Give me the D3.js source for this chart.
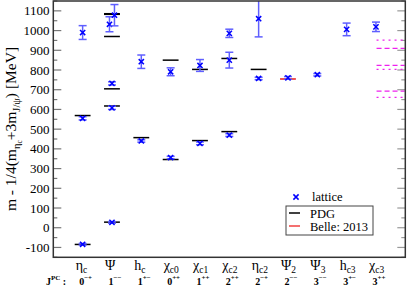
<!DOCTYPE html>
<html><head><meta charset="utf-8">
<script src="https://cdn.jsdelivr.net/npm/d3@7"></script>
<style>body{margin:0;background:#fff}svg{display:block}text{font-family:"Liberation Serif","DejaVu Serif",serif}</style>
</head><body><svg id="c" width="407" height="293"></svg>
<script>
// categories
const catMain = ["η","Ψ","h","χ","χ","χ","η","Ψ","Ψ","h","χ"];
const catSub  = ["c","","c","c0","c1","c2","c2","2","3","c3","c3"];
const jpcJ    = ["0","1","1","0","1","2","2","2","3","3","3"];
const jpcPC   = ["-+","--","+-","++","++","++","-+","--","--","+-","++"];
// lattice results: category index, value [MeV], error, small horizontal shift (category units)
const latCat = [0,0,0, 1,1,1,1,1, 2,2, 3,3, 4,4, 5,5,5, 6,6, 7, 8, 9, 10];
const latVal = [-84,555,990, 27,608,732,1032,1078, 440,842, 356,791, 428,823, 470,850,986, 757,1060, 760, 776, 1006, 1019];
const latErr = [4,8,35, 4,8,8,38,54, 6,34, 6,20, 7,30, 7,40,21, 6,92, 7, 6, 32, 24];
const latShift=[0,0,0, 0,0,0,-0.085,0.085, 0,0, 0,0, 0,0, 0,0,0, 0,0, 0, 0, 0, 0];
// PDG values
const pdgCat = [0,0, 1,1,1,1,1,1, 2, 3,3, 4,4, 5,5, 6];
const pdgVal = [-84.8,569, 28.3,617.5,704.5,970,1082.5,1085.5, 457, 346,850, 442,803, 487.5,858.5, 803];
// Belle 2013
const belleCat = [7];
const belleVal = [754.5];
// thresholds (right edge)
const thrVal  = [952,910,823,803,693,661];
const thrType = ["dot","dash","dash","dot","dash","dot"];
const yTicks = [-100,0,100,200,300,400,500,600,700,800,900,1000,1100];

const svg = d3.select("#c");
const L=53.3,R=405.3,T=1,B=257.3;
const x = d3.scaleLinear().domain([-1,11]).range([L,R]);
const y = d3.scaleLinear().domain([-150,1150]).range([B,T]);
const hw = 0.27;

// ticks left/right
const minor = d3.range(-150,1151,50).filter(v=>v%100!==0);
const gAx = svg.append("g");
yTicks.forEach(v=>{
  gAx.append("line").attr("x1",L).attr("x2",L+8).attr("y1",y(v)).attr("y2",y(v)).attr("stroke","#777").attr("stroke-width",1.2);
  gAx.append("line").attr("x1",R-8).attr("x2",R).attr("y1",y(v)).attr("y2",y(v)).attr("stroke","#999").attr("stroke-width",1.2);
  gAx.append("text").attr("x",49.5).attr("y",y(v)+4.5).attr("text-anchor","end").attr("font-size",13).text(v);
});
minor.forEach(v=>{
  gAx.append("line").attr("x1",L).attr("x2",L+4).attr("y1",y(v)).attr("y2",y(v)).attr("stroke","#777").attr("stroke-width",1.2);
  gAx.append("line").attr("x1",R-4).attr("x2",R).attr("y1",y(v)).attr("y2",y(v)).attr("stroke","#999").attr("stroke-width",1.2);
});

// thresholds
thrVal.forEach((v,i)=>{
  svg.append("line").attr("x1",x(10.02)).attr("x2",x(10.98)).attr("y1",y(v)).attr("y2",y(v))
    .attr("stroke","#ee22ee").attr("stroke-width",1.3)
    .attr("stroke-dasharray",thrType[i]==="dash"?"5,3":"2,4");
});

// PDG lines
pdgVal.forEach((v,i)=>{
  svg.append("line").attr("x1",x(pdgCat[i]-hw)).attr("x2",x(pdgCat[i]+hw)).attr("y1",y(v)).attr("y2",y(v))
    .attr("stroke","#000").attr("stroke-width",1.5);
});
belleVal.forEach((v,i)=>{
  svg.append("line").attr("x1",x(belleCat[i]-hw)).attr("x2",x(belleCat[i]+hw)).attr("y1",y(v)).attr("y2",y(v))
    .attr("stroke","#ee5555").attr("stroke-width",2);
});

// lattice error bars + markers
latVal.forEach((v,i)=>{
  const cx = x(latCat[i]+latShift[i]);
  const g = svg.append("g");
  const e = latErr[i];
  const top = Math.min(1150, v+e);
  g.append("line").attr("x1",cx).attr("x2",cx).attr("y1",y(v-e)).attr("y2",y(top)).attr("stroke","#5f5fff").attr("stroke-width",1.5);
  [v-e, v+e].forEach(w=>{ if(w<=1150) g.append("line").attr("x1",cx-4).attr("x2",cx+4).attr("y1",y(w)).attr("y2",y(w)).attr("stroke","#5f5fff").attr("stroke-width",1.5);});
  const s=2.6, cy=y(v);
  g.append("path").attr("d",`M${cx-s},${cy-s}L${cx+s},${cy+s}M${cx-s},${cy+s}L${cx+s},${cy-s}`).attr("stroke","#0000ff").attr("stroke-width",1.5);
});

// frame
svg.append("rect").attr("x",L).attr("y",T).attr("width",R-L).attr("height",B-T).attr("fill","none").attr("stroke","#333").attr("stroke-width",1.5);

// category labels
catMain.forEach((m,i)=>{
  const t = svg.append("text").attr("x",x(i)-7).attr("y",269.5).attr("font-size",14);
  t.append("tspan").text(m);
  if(catSub[i]) t.append("tspan").attr("font-size",9.5).attr("dy",3.5).text(catSub[i]);
  const j = svg.append("text").attr("x",x(i)-3.5).attr("y",284.5).attr("font-size",10).attr("font-weight","bold");
  j.append("tspan").text(jpcJ[i]);
  j.append("tspan").attr("font-size",7).attr("dy",-4.5).text(jpcPC[i].replace(/-/g,"−"));
});
const jl = svg.append("text").attr("x",46).attr("y",284.5).attr("font-size",10).attr("font-weight","bold");
jl.append("tspan").text("J");
jl.append("tspan").attr("font-size",7).attr("dy",-4.5).text("PC");
jl.append("tspan").attr("dy",4.5).text(" :");

// y label
const yl = svg.append("text").attr("transform","translate(16,129) rotate(-90)").attr("text-anchor","middle").attr("font-size",15.5);
yl.append("tspan").text("m - 1/4(m");
yl.append("tspan").attr("font-size",10.5).attr("dy",4).text("η");
yl.append("tspan").attr("font-size",7.5).attr("dy",2).text("c");
yl.append("tspan").attr("dy",-6).text("+3m");
yl.append("tspan").attr("font-size",10.5).attr("dy",4).text("J/ψ");
yl.append("tspan").attr("dy",-4).text(") [MeV]");

// legend
const lg = svg.append("g");
{ const cx=296, cy=197, s=2.6;
  lg.append("path").attr("d",`M${cx-s},${cy-s}L${cx+s},${cy+s}M${cx-s},${cy+s}L${cx+s},${cy-s}`).attr("stroke","#0000ff").attr("stroke-width",1.5);
  lg.append("text").attr("x",312).attr("y",201).attr("font-size",12.5).text("lattice");
  lg.append("rect").attr("x",286).attr("y",206).attr("width",87).attr("height",29).attr("fill","#fff").attr("stroke","#444").attr("stroke-width",1);
  lg.append("line").attr("x1",289).attr("x2",300).attr("y1",213).attr("y2",213).attr("stroke","#000").attr("stroke-width",1.5);
  lg.append("text").attr("x",310).attr("y",217.5).attr("font-size",12.5).text("PDG");
  lg.append("line").attr("x1",289).attr("x2",300).attr("y1",226).attr("y2",226).attr("stroke","#ee2222").attr("stroke-width",1.3);
  lg.append("text").attr("x",310).attr("y",230.5).attr("font-size",12.5).text("Belle: 2013");
}
</script></body></html>
